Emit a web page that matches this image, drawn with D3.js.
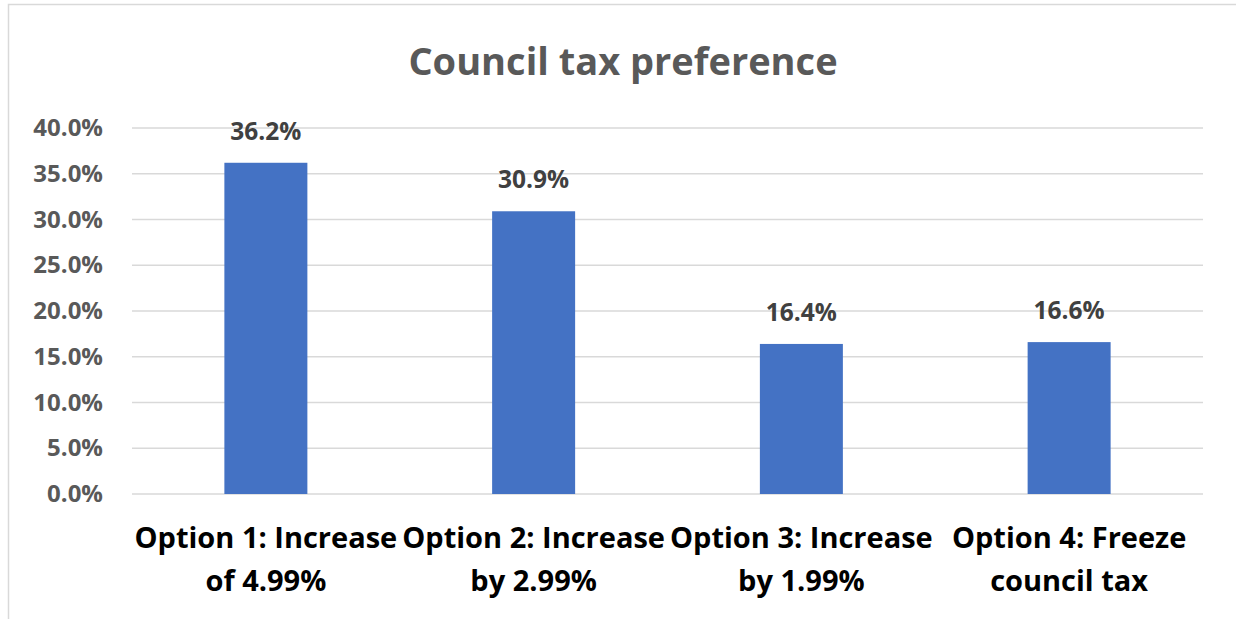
<!DOCTYPE html>
<html>
<head>
<meta charset="utf-8">
<script src="https://cdn.jsdelivr.net/npm/d3@7"></script>
<style>
  html, body { margin: 0; padding: 0; background: #fff; }
  svg { display: block; font-family: "Open Sans", sans-serif; }
</style>
</head>
<body>
<svg id="chart" width="1236" height="619"></svg>
<script>
// Council tax preference survey results
const categories = [
  ["Option 1: Increase", "of 4.99%"],
  ["Option 2: Increase", "by 2.99%"],
  ["Option 3: Increase", "by 1.99%"],
  ["Option 4: Freeze", "council tax"]
];
const values = [36.2, 30.9, 16.4, 16.6];
const yTicks = [0, 5, 10, 15, 20, 25, 30, 35, 40];
const title = "Council tax preference";

const svg = d3.select("#chart");
const margin = { left: 132, right: 33, top: 128, bottom: 125 };
const W = 1236, H = 619;

// chart frame
svg.append("rect")
  .attr("x", 8.5).attr("y", 4.5)
  .attr("width", 1300).attr("height", 700)
  .attr("fill", "#fff").attr("stroke", "#d9d9d9").attr("stroke-width", 1.5);

const x = d3.scaleBand()
  .domain(d3.range(categories.length))
  .range([margin.left, W - margin.right])
  .paddingInner(0.69).paddingOuter(0.345);

const y = d3.scaleLinear().domain([0, 40]).range([H - margin.bottom, margin.top]);

// gridlines
svg.append("g")
  .selectAll("line").data(yTicks).join("line")
  .attr("x1", margin.left).attr("x2", W - margin.right)
  .attr("y1", d => y(d)).attr("y2", d => y(d))
  .attr("stroke", "#d9d9d9").attr("stroke-width", 1.5);

// y axis tick labels
const yAxis = d3.axisLeft(y).tickValues(yTicks)
  .tickFormat(d => d.toFixed(1) + "%").tickSize(0).tickPadding(29);
const ya = svg.append("g").attr("transform", `translate(${margin.left},0)`).call(yAxis);
ya.select(".domain").remove();
ya.selectAll("text")
  .attr("fill", "#595959").attr("font-size", 24).attr("font-weight", 700)
  .attr("font-family", "'Open Sans', sans-serif");

// bars
svg.append("g").selectAll("rect").data(values).join("rect")
  .attr("x", (d, i) => x(i)).attr("width", x.bandwidth())
  .attr("y", d => y(d)).attr("height", d => y(0) - y(d))
  .attr("fill", "#4472c4");

// value labels
svg.append("g").selectAll("text").data(values).join("text")
  .attr("x", (d, i) => x(i) + x.bandwidth() / 2)
  .attr("y", d => y(d) - 23)
  .attr("text-anchor", "middle")
  .attr("fill", "#404040").attr("font-size", 24.5).attr("font-weight", 700)
  .text(d => d.toFixed(1) + "%");

// category labels
const cat = svg.append("g").selectAll("text").data(categories).join("text")
  .attr("text-anchor", "middle")
  .attr("fill", "#000").attr("font-size", 29).attr("font-weight", 700);
cat.each(function (lines, i) {
  const t = d3.select(this);
  lines.forEach((s, j) => {
    t.append("tspan")
      .attr("x", x(i) + x.bandwidth() / 2)
      .attr("y", 548 + j * 43)
      .text(s);
  });
});

// title
svg.append("text")
  .attr("x", 623).attr("y", 75)
  .attr("text-anchor", "middle")
  .attr("fill", "#595959").attr("font-size", 38).attr("font-weight", 700)
  .text(title);
</script>
</body>
</html>
